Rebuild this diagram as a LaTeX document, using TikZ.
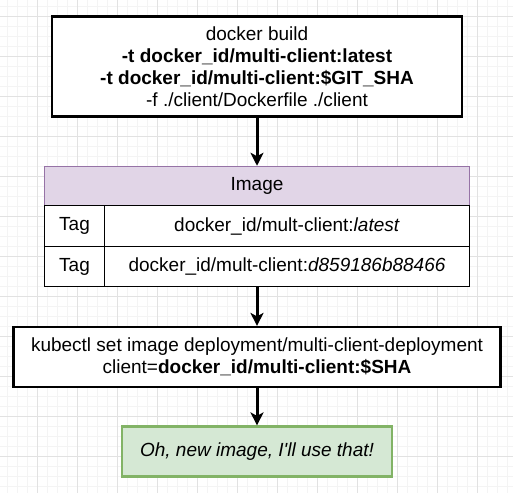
\documentclass[tikz,border=0pt]{standalone}
\usepackage{fontspec}
\setmainfont{Liberation Sans}
\usetikzlibrary{arrows.meta,positioning}

\definecolor{imgfill}{HTML}{E1D5E7}
\definecolor{imgline}{HTML}{9673A6}
\definecolor{podfill}{HTML}{D5E8D4}
\definecolor{podline}{HTML}{82B366}
\definecolor{gridmin}{HTML}{F4F4F4}
\definecolor{gridmaj}{HTML}{E2E2E2}

\tikzset{
  cmdbox/.style={draw=black, line width=2.2pt, fill=white, align=center, inner sep=0pt},
  imghead/.style={draw=imgline, line width=1.5pt, fill=imgfill, inner sep=0pt},
  cellbox/.style={draw=black, line width=1.5pt, fill=white, inner sep=0pt},
  podbox/.style={draw=podline, line width=2.2pt, fill=podfill, inner sep=0pt},
  flow/.style={-{Stealth[length=13pt, width=13pt, inset=3.5pt]}, line width=3pt},
  gridminor/.style={gridmin, line width=0.6pt},
  gridmajor/.style={gridmaj, line width=0.8pt}
}

\begin{document}
\begin{tikzpicture}[x=1pt, y=-1pt, font=\fontsize{19}{22}\selectfont]
            \useasboundingbox (0,0) rectangle (513,493);
            \fill[white] (0,0) rectangle (513,493);

            %Rejilla
            \foreach \gx in {7,17,...,507} \draw[gridminor] (\gx,0) -- (\gx,493);
            \foreach \gy in {6,16,...,486} \draw[gridminor] (0,\gy) -- (513,\gy);
            \foreach \gx in {37,77,...,477} \draw[gridmajor] (\gx,0) -- (\gx,493);
            \foreach \gy in {16,56,...,456} \draw[gridmajor] (0,\gy) -- (513,\gy);

            %docker build
            \node[cmdbox, minimum width=410pt, minimum height=100pt] (build) at (257,66.5)
                {docker build\\ \textbf{-t docker\_id/multi-client:latest}\\
                 \textbf{-t docker\_id/multi-client:\$GIT\_SHA}\\ -f ./client/Dockerfile ./client};

            %Tabla de la imagen
            \node[imghead, minimum width=425pt, minimum height=39pt] (head) at (257,186) {Image};
            \node[cellbox, minimum width=60pt, minimum height=41pt] (tag1) at (74.5,226) {Tag};
            \node[cellbox, minimum width=365pt, minimum height=41pt] (val1) at (287,226)
                {docker\_id/mult-client:\textit{latest}};
            \node[cellbox, minimum width=60pt, minimum height=40pt] (tag2) at (74.5,266.5) {Tag};
            \node[cellbox, minimum width=365pt, minimum height=40pt] (val2) at (287,266.5)
                {docker\_id/mult-client:\textit{d859186b88466}};

            %kubectl
            \node[cmdbox, minimum width=487pt, minimum height=60pt] (kubectl) at (257,357)
                {kubectl set image deployment/multi-client-deployment\\
                 client=\textbf{docker\_id/multi-client:\$SHA}};

            %Respuesta
            \node[podbox, minimum width=270pt, minimum height=50pt] (pod) at (257,451.5)
                {\textit{Oh, new image, I\textquotesingle ll use that!}};

            %Flechas
            \draw[flow] (build.south) -- (head.north);
            \draw[flow] (val2.south -| head.south) -- (kubectl.north);
            \draw[flow] (kubectl.south) -- (pod.north);
        \end{tikzpicture}
\end{document}
